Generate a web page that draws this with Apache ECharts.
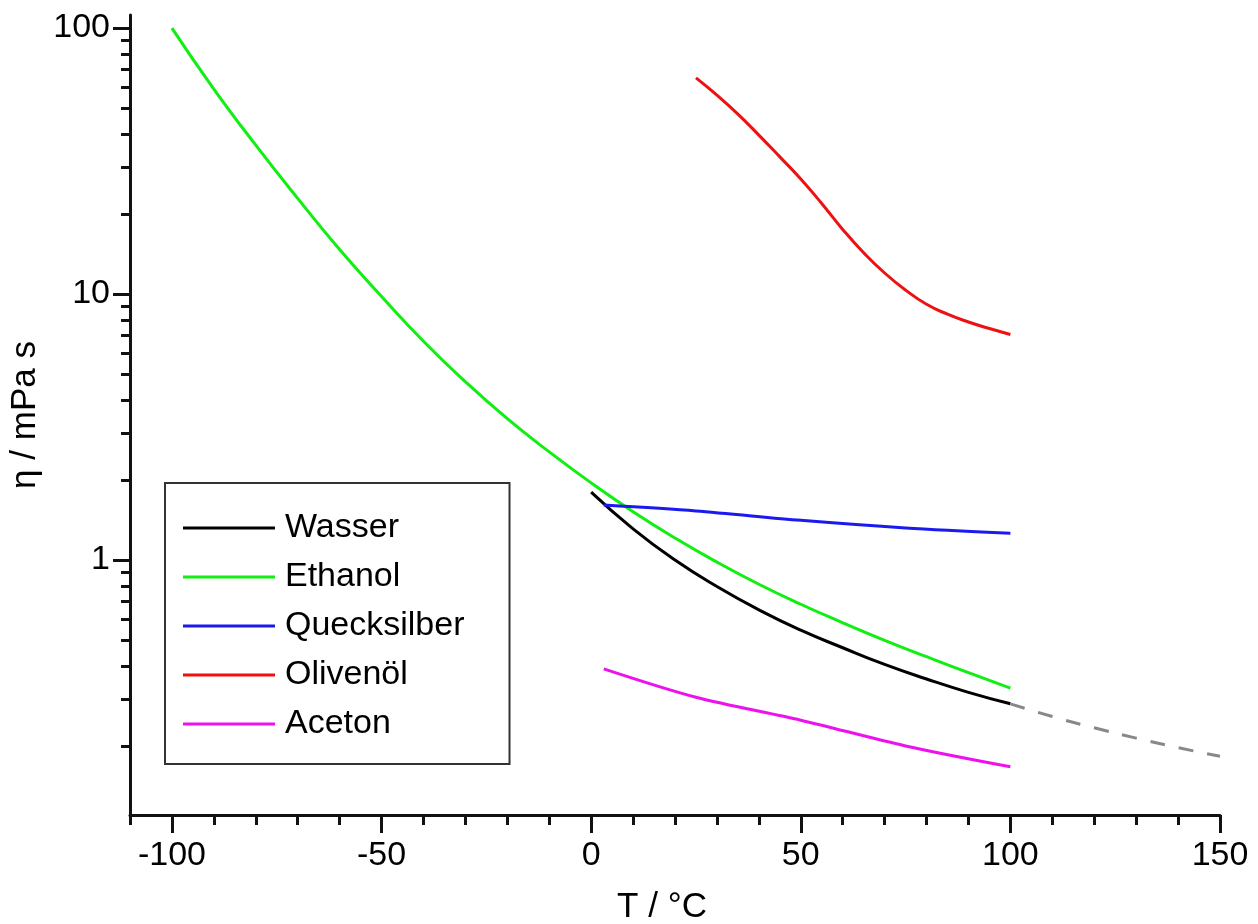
<!DOCTYPE html>
<html>
<head>
<meta charset="utf-8">
<script src="https://cdn.jsdelivr.net/npm/echarts@6/dist/echarts.min.js"></script>
<style>html,body{margin:0;padding:0;background:#fff}#c{width:1258px;height:924px}</style>
</head>
<body>
<div id="c"></div>
<script>
// ---- data ----
const waterT   = [0, 10, 20, 30, 40, 50, 60, 70, 80, 90, 100];
const waterEta = [1.8, 1.31, 1.0, 0.795, 0.65, 0.545, 0.468, 0.405, 0.357, 0.318, 0.288];
const waterExtT   = [100, 110, 120, 130, 140, 150];
const waterExtEta = [0.288, 0.258, 0.234, 0.214, 0.197, 0.183];
const ethanolT   = [-100, -90, -80, -70, -60, -50, -40, -30, -20, -10, 0, 10, 20, 30, 40, 50, 60, 70, 80, 90, 100];
const ethanolEta = [100, 59, 36.3, 22.9, 14.7, 9.8, 6.65, 4.68, 3.40, 2.55, 1.95, 1.52, 1.21, 0.982, 0.811, 0.682, 0.581, 0.499, 0.433, 0.377, 0.33];
const mercuryT   = [3, 25, 50, 75, 100];
const mercuryEta = [1.61, 1.53, 1.41, 1.32, 1.26];
const oliveT   = [25, 30, 35, 40, 45, 50, 55, 60, 65, 70, 75, 80, 85, 90, 95, 100];
const oliveEta = [65, 56, 47.5, 39.6, 32.8, 27.1, 21.9, 17.5, 14.3, 12.0, 10.35, 9.15, 8.4, 7.85, 7.42, 7.05];
const acetoneT   = [3, 25, 50, 75, 100];
const acetoneEta = [0.39, 0.305, 0.25, 0.2, 0.167];

const seriesNames = ['Wasser', 'Ethanol', 'Quecksilber', 'Olivenöl', 'Aceton'];
const xMajorTicks = [-100, -50, 0, 50, 100, 150];
const yMajorTicks = [1, 10, 100];
const yMinorTicks = [0.2, 0.3, 0.4, 0.5, 0.6, 0.7, 0.8, 0.9, 2, 3, 4, 5, 6, 7, 8, 9, 20, 30, 40, 50, 60, 70, 80, 90];

function pairs(xs, ys) { return xs.map((x, i) => [x, ys[i]]); }

const FONT = "'Liberation Sans', Arial, sans-serif";
const AX = '#111';

const chart = echarts.init(document.getElementById('c'), null, {renderer: 'canvas'});
const option = {
  animation: false,
  backgroundColor: '#ffffff',
  textStyle: {fontFamily: FONT},
  grid: {left: 130, right: 38, top: 15, bottom: 109, containLabel: false, outerBoundsMode: 'none'},
  xAxis: [
    {
      type: 'value', min: -110, max: 150, interval: 10, position: 'bottom',
      name: 'T / °C', nameLocation: 'middle', nameGap: 75,
      nameTextStyle: {fontSize: 35, color: '#000', fontFamily: FONT, padding: [0, 26, 0, 0]},
      axisLine: {show: true, onZero: false, lineStyle: {color: AX, width: 3}},
      axisTick: {show: true, length: 10, lineStyle: {color: AX, width: 3}},
      axisLabel: {show: false},
      splitLine: {show: false}
    },
    {
      type: 'value', min: -110, max: 150, position: 'bottom', offset: 0,
      axisLine: {show: true, onZero: false, lineStyle: {color: 'rgba(0,0,0,0)', width: 0}},
      axisTick: {show: true, customValues: xMajorTicks, length: 18, lineStyle: {color: AX, width: 3}},
      axisLabel: {show: true, customValues: xMajorTicks, fontSize: 34, margin: 24, color: '#000', fontFamily: FONT},
      splitLine: {show: false}
    }
  ],
  yAxis: [
    {
      type: 'log', logBase: 10, min: 0.11, max: 112, position: 'left',
      name: 'η / mPa s', nameLocation: 'middle', nameGap: 84, nameRotate: 90,
      nameTextStyle: {fontSize: 35, color: '#000', fontFamily: FONT},
      axisLine: {show: true, onZero: false, lineStyle: {color: AX, width: 3}},
      axisTick: {show: true, customValues: yMajorTicks, length: 17, lineStyle: {color: AX, width: 3}},
      axisLabel: {show: true, customValues: yMajorTicks, fontSize: 34, margin: 20, color: '#000', fontFamily: FONT,
                  formatter: v => String(v)},
      splitLine: {show: false}
    },
    {
      type: 'log', logBase: 10, min: 0.11, max: 112, position: 'left', offset: 0,
      axisLine: {show: false, onZero: false},
      axisTick: {show: true, customValues: yMinorTicks, length: 9, lineStyle: {color: AX, width: 3}},
      axisLabel: {show: false},
      splitLine: {show: false}
    }
  ],
  legend: {
    data: seriesNames, orient: 'vertical', left: 165, top: 483,
    icon: 'rect',
    padding: [28, 45, 23, 18], itemGap: 15, itemWidth: 92, itemHeight: 3,
    borderColor: '#333', borderWidth: 2, borderRadius: 0, backgroundColor: '#ffffff',
    selectedMode: false,
    textStyle: {fontSize: 34, color: '#000', fontFamily: FONT, lineHeight: 34, padding: [0, 0, 0, 5]}
  },
  series: [
    {name: 'Wasser', type: 'line', data: pairs(waterT, waterEta), smooth: 0.5, symbol: 'none',
     lineStyle: {color: '#000000', width: 3}, itemStyle: {color: '#000000'}},
    {name: 'Ethanol', type: 'line', data: pairs(ethanolT, ethanolEta), smooth: 0.5, symbol: 'none',
     lineStyle: {color: '#11ee11', width: 3}, itemStyle: {color: '#11ee11'}},
    {name: 'Quecksilber', type: 'line', data: pairs(mercuryT, mercuryEta), smooth: 0.3, symbol: 'none',
     lineStyle: {color: '#1a1aee', width: 3}, itemStyle: {color: '#1a1aee'}},
    {name: 'Olivenöl', type: 'line', data: pairs(oliveT, oliveEta), smooth: 0.5, symbol: 'none',
     lineStyle: {color: '#ee1111', width: 3}, itemStyle: {color: '#ee1111'}},
    {name: 'Aceton', type: 'line', data: pairs(acetoneT, acetoneEta), smooth: 0.3, symbol: 'none',
     lineStyle: {color: '#ee11ee', width: 3}, itemStyle: {color: '#ee11ee'}},
    {name: 'Wasser (extrapoliert)', type: 'line', data: pairs(waterExtT, waterExtEta), smooth: 0.5, symbol: 'none',
     lineStyle: {color: '#888888', width: 3, type: [15, 14]}, itemStyle: {color: '#888888'}}
  ]
};
chart.setOption(option);
</script>
</body>
</html>
